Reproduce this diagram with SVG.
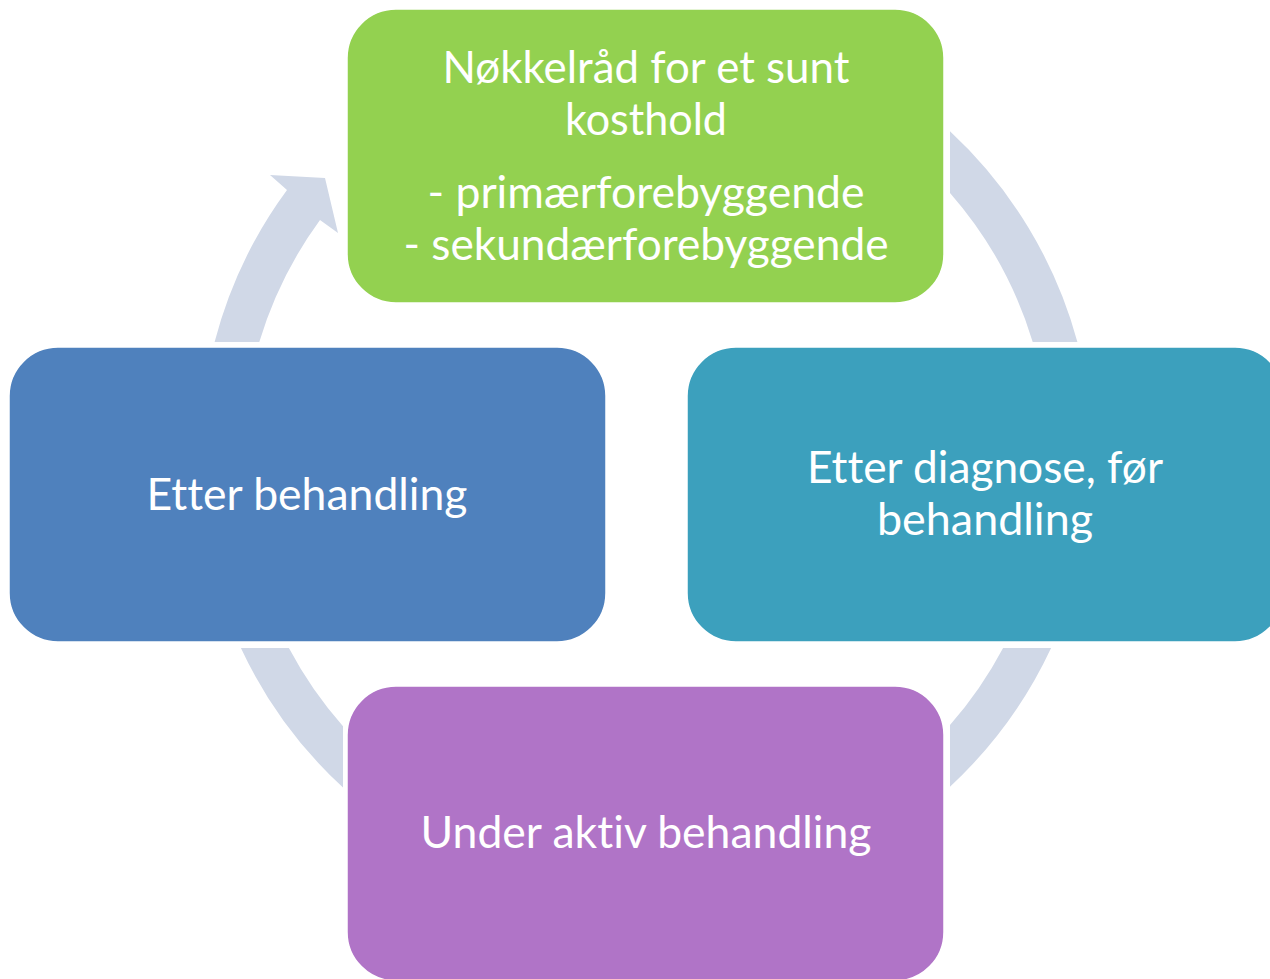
<svg xmlns="http://www.w3.org/2000/svg" width="1270" height="979" viewBox="0 0 1270 979">
<style>
.arc{fill:#D0D8E7;stroke:none}
.box{stroke:#ffffff;stroke-width:1.5}
.t{font-family:Lato,"Liberation Sans",sans-serif;font-size:44px;fill:#ffffff;text-anchor:middle;font-variant-ligatures:none;font-feature-settings:"liga" 0,"clig" 0,"dlig" 0}
</style>
<rect x="0" y="0" width="1270" height="979" fill="#ffffff"/>
<g id="connectors">
<path class="arc" d="M 214.6 342 A 447 447 0 0 1 287 190 L 270 175 L 325 178 L 338 233 L 320 220 A 404 404 0 0 0 259.3 342 Z"/>
<path class="arc" d="M 950 131.3 A 447 447 0 0 1 1077.4 342 L 1032.7 342 A 404 404 0 0 0 950 192.9 Z"/>
<path class="arc" d="M 1051.1 648 A 447 447 0 0 1 950 786.7 L 950 725.1 A 404 404 0 0 0 1003.1 648 Z"/>
<path class="arc" d="M 343 787.6 A 447 447 0 0 1 240.9 648 L 288.9 648 A 404 404 0 0 0 343 726.2 Z"/>
</g>
<g id="node-top">
<rect class="box" x="347" y="9" width="597" height="294" rx="49" fill="#93D150"/>
<text class="t" x="646" y="83" textLength="407" lengthAdjust="spacingAndGlyphs">Nøkkelråd for et sunt</text>
<text class="t" x="646" y="135" textLength="162" lengthAdjust="spacingAndGlyphs">kosthold</text>
<text class="t" x="646" y="208" textLength="437" lengthAdjust="spacingAndGlyphs">- primærforebyggende</text>
<text class="t" x="646" y="260" textLength="485" lengthAdjust="spacingAndGlyphs">- sekundærforebyggende</text>
</g>
<g id="node-right">
<rect class="box" x="687" y="347" width="597" height="295" rx="49" fill="#3CA0BD"/>
<text class="t" x="985" y="483" textLength="356" lengthAdjust="spacingAndGlyphs">Etter diagnose, før</text>
<text class="t" x="985" y="535" textLength="216" lengthAdjust="spacingAndGlyphs">behandling</text>
</g>
<g id="node-bottom">
<rect class="box" x="347" y="686" width="597" height="295" rx="49" fill="#B074C7"/>
<text class="t" x="646" y="848" textLength="451" lengthAdjust="spacingAndGlyphs">Under aktiv behandling</text>
</g>
<g id="node-left">
<rect class="box" x="9" y="347" width="597" height="295" rx="49" fill="#4F81BD"/>
<text class="t" x="307" y="510" textLength="321" lengthAdjust="spacingAndGlyphs">Etter behandling</text>
</g>
</svg>
